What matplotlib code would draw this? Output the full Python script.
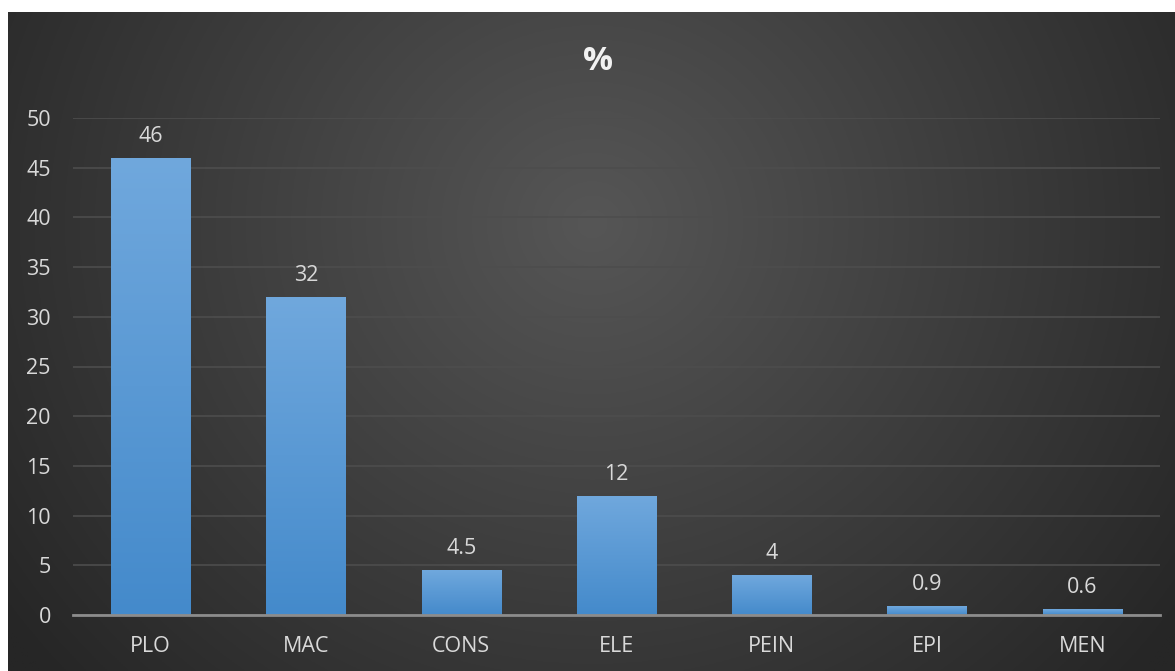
import numpy as np
import matplotlib
matplotlib.use("Agg")
import matplotlib.pyplot as plt

categories = ["PLO", "MAC", "CONS", "ELE", "PEIN", "EPI", "MEN"]
values = [46, 32, 4.5, 12, 4, 0.9, 0.6]
value_labels = ["46", "32", "4.5", "12", "4", "0.9", "0.6"]
yticks = [0, 5, 10, 15, 20, 25, 30, 35, 40, 45, 50]
title = "%"

W, H = 1175, 671
fig = plt.figure(figsize=(W / 100, H / 100), dpi=100, facecolor="white")
plt.rcParams['font.family'] = ['Open Sans', 'DejaVu Sans']

# background with radial gradient
bg = fig.add_axes([8 / W, 0, 1 - 8 / W, 1 - 12 / H])
bg.set_axis_off()
ny, nx = 300, 600
yy, xx = np.mgrid[0:ny, 0:nx]
cx, cy = 0.5 * nx, 0.32 * ny
d = np.sqrt(((xx - cx) / nx) ** 2 + ((yy - cy) / ny * 0.6) ** 2)
d = np.clip(d / 0.62, 0, 1)
c0 = np.array([0x56, 0x56, 0x56]) / 255
c1 = np.array([0x26, 0x26, 0x26]) / 255
img = c0[None, None, :] * (1 - d[..., None]) + c1[None, None, :] * d[..., None]
bg.imshow(img, extent=[0, 1, 0, 1], aspect="auto", origin="upper")
bg.set_xlim(0, 1)
bg.set_ylim(0, 1)

# main axes: x 73..1160, y0 at 615, 50 at 118
x0, x1 = 73, 1160
y_bot = 615
px_per = (615 - 118) / 50
ax = fig.add_axes([x0 / W, (H - y_bot) / H, (x1 - x0) / W, (50 * px_per) / H])
ax.patch.set_alpha(0)

x = np.arange(len(categories))
bars = ax.bar(x, values, width=0.51, color="#5b9bd5", zorder=3)
grad = np.linspace(0, 1, 256)[:, None]
top = np.array([0x70, 0xa8, 0xdd]) / 255
bot = np.array([0x44, 0x8a, 0xcb]) / 255
gimg = top[None, None, :] * (1 - grad[..., None]) + bot[None, None, :] * grad[..., None]
for b in bars:
    bx, by, bw, bh = b.get_x(), b.get_y(), b.get_width(), b.get_height()
    im = ax.imshow(gimg, extent=[bx, bx + bw, by, by + bh], aspect="auto",
                   origin="upper", zorder=4)
    im.set_clip_path(b)
    b.set_facecolor("none")
ax.set_xlim(-0.5, len(categories) - 0.5)
ax.set_ylim(0, 50)

for xi, v, lab in zip(x, values, value_labels):
    ax.annotate(lab, (xi, v), xytext=(0, 8), textcoords="offset points",
                ha="center", va="bottom", color="#d9d9d9", fontsize=15.5)

ax.set_yticks(yticks)
ax.set_xticks(x)
ax.set_xticklabels(categories)
ax.tick_params(axis="both", length=0, colors="#d9d9d9", labelsize=15.5)
ax.tick_params(axis="x", pad=15)
ax.tick_params(axis="y", pad=16)
ax.grid(axis="y", color="#4d4d4d", linewidth=1.2, zorder=0)
ax.set_axisbelow(True)
for s in ["top", "right", "left"]:
    ax.spines[s].set_visible(False)
ax.spines["bottom"].set_color("#8c8c8c")
ax.spines["bottom"].set_linewidth(2)
ax.spines["bottom"].set_zorder(5)

fig.text(598 / W, 1 - 62 / H, title, ha="center", va="center",
         color="#f2f2f2", fontsize=24, fontweight="bold")

fig.savefig("out.png", dpi=100, facecolor="white")
